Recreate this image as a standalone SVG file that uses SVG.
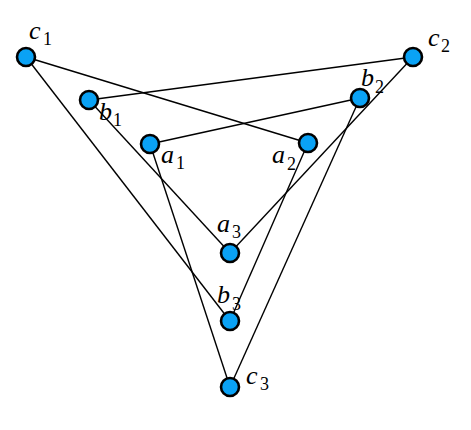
<svg xmlns="http://www.w3.org/2000/svg" width="471" height="430" viewBox="0 0 471 430">
<style>
.n{fill:#0aa2f5;stroke:#000;stroke-width:2.6}
.e{stroke:#000;stroke-width:1.4;fill:none}
.l{font-family:"Liberation Serif",serif;font-style:italic;font-size:26px;fill:#000}
.s{font-style:normal;font-size:18px}
</style>
<rect width="471" height="430" fill="#fff"/>
<g id="connectors" class="e">
<line x1="26" y1="57" x2="308" y2="143"/>
<line x1="26" y1="57" x2="230" y2="321"/>
<line x1="89" y1="100" x2="413" y2="57"/>
<line x1="89" y1="100" x2="230" y2="253"/>
<line x1="150" y1="144" x2="360" y2="98"/>
<line x1="150" y1="144" x2="230" y2="387"/>
<line x1="413" y1="57" x2="230" y2="253"/>
<line x1="360" y1="98" x2="230" y2="387"/>
<line x1="308" y1="143" x2="230" y2="321"/>
</g>
<g id="c1"><circle class="n" cx="26" cy="57" r="9"/><text class="l" x="29" y="39">c</text><text class="l s" x="43" y="45">1</text></g>
<g id="b1"><circle class="n" cx="89" cy="100" r="9"/><text class="l" x="99" y="120">b</text><text class="l s" x="113" y="126">1</text></g>
<g id="a1"><circle class="n" cx="150" cy="144" r="9"/><text class="l" x="161" y="163">a</text><text class="l s" x="176" y="169">1</text></g>
<g id="c2"><circle class="n" cx="413" cy="57" r="9"/><text class="l" x="428" y="46">c</text><text class="l s" x="441" y="52">2</text></g>
<g id="b2"><circle class="n" cx="360" cy="98" r="9"/><text class="l" x="361" y="86">b</text><text class="l s" x="375" y="93">2</text></g>
<g id="a2"><circle class="n" cx="308" cy="143" r="9"/><text class="l" x="272" y="163">a</text><text class="l s" x="287" y="170">2</text></g>
<g id="a3"><circle class="n" cx="230" cy="253" r="9"/><text class="l" x="217" y="232">a</text><text class="l s" x="232" y="238">3</text></g>
<g id="b3"><circle class="n" cx="230" cy="321" r="9"/><text class="l" x="217" y="303">b</text><text class="l s" x="232" y="310">3</text></g>
<g id="c3"><circle class="n" cx="230" cy="387" r="9"/><text class="l" x="246" y="384">c</text><text class="l s" x="260" y="390">3</text></g>
</svg>
